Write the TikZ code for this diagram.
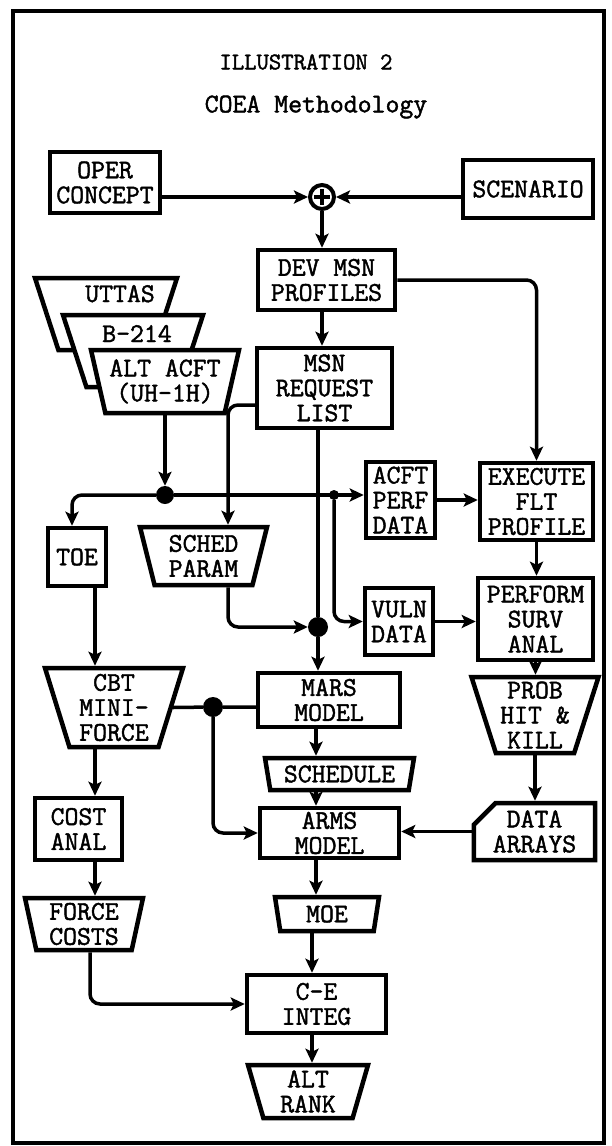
\documentclass[tikz,border=0pt]{standalone}
\usepackage{fontspec}
\setmonofont{Latin Modern Mono}[FakeBold=1.6]
\usetikzlibrary{shapes.geometric,shapes.misc,arrows.meta}

\newcommand{\boxfont}{\ttfamily\fontsize{27}{25}\selectfont}
\newcommand{\titlefont}{\ttfamily\fontsize{24}{24}\selectfont}
\newcommand{\tline}[1]{\makebox[0pt]{#1}}

\tikzset{
  blk/.style={draw, line width=4.5pt, fill=white, inner sep=0pt, align=center, font=\boxfont},
  trap/.style={blk, trapezium, shape border rotate=180, trapezium stretches body, trapezium angle=#1},
  jdot/.style={circle, fill, inner sep=0pt, minimum size=#1},
  flow/.style={line width=3.5pt, -{Stealth[length=14pt,width=13pt,inset=3pt]}},
  link/.style={line width=3.5pt},
  plus/.style={circle, draw, line width=4pt, minimum size=24pt, inner sep=0pt,
    path picture={
      \draw[line width=4pt] ([yshift=-4pt]path picture bounding box.north) -- ([yshift=4pt]path picture bounding box.south);
      \draw[line width=4pt] ([xshift=4pt]path picture bounding box.west) -- ([xshift=-4pt]path picture bounding box.east);}}
}

\begin{document}
\begin{tikzpicture}[x=1pt,y=-1pt]
\useasboundingbox (0,0) rectangle (612,1146);
\draw[line width=4pt] (13,11) rectangle (604,1143);

%TITLE
  \node (title) at (306,62) {\titlefont ILLUSTRATION 2};
  \node (subtitle) at (316,107) {\boxfont COEA Methodology};

%INPUTS
\node[blk, minimum width=110pt, minimum height=61pt] (oper) at (105,182.5) {OPER\\CONCEPT};
\node[plus] (sum) at (322,197) {};
\node[blk, minimum width=130pt, minimum height=58pt] (scen) at (528,189) {SCENARIO};
\node[blk, minimum width=137pt, minimum height=60pt] (dev) at (326.5,280) {DEV MSN\\PROFILES};
\node[blk, minimum width=135pt, minimum height=80pt] (msn) at (324.5,388) {MSN\\REQUEST\\LIST};

%ALTERNATIVES
\node[trap=72, minimum width=142pt, text height=24pt, text depth=48pt] (uttas) at (106,314)
  {\tline{\hspace{28pt}UTTAS}};
\node[trap=72, minimum width=140pt, text height=27pt, text depth=45pt] (b214) at (133,351)
  {\tline{\hspace{8pt}B-214}};
\node[trap=72, minimum width=148pt, minimum height=63pt] (alt) at (165,381.5)
  {\tline{ALT ACFT}\\\tline{(UH-1H)}};

%JUNCTIONS
\node[jdot=18pt] (j1) at (165,495) {};
\node[jdot=10pt] (j2) at (334,495) {};
\node[jdot=20pt] (j3) at (318,627) {};
\node[jdot=20pt] (j4) at (213,707) {};
\coordinate (pcol) at (228,0);
\coordinate (lcol) at (95,0);
\coordinate (fcol) at (90,0);
\coordinate (mcol) at (316,0);
\coordinate (bcol) at (312,0);

%SURVIVABILITY
\node[blk, minimum width=69pt, minimum height=76pt] (acft) at (400.5,500) {ACFT\\PERF\\DATA};
\node[blk, minimum width=113pt, minimum height=77pt] (exe) at (536.5,501.5) {EXECUTE\\FLT\\PROFILE};
\node[blk, minimum width=68pt, minimum height=67pt] (vuln) at (399,621.5) {VULN\\DATA};
\node[blk, minimum width=115pt, minimum height=82pt] (surv) at (535.5,619) {PERFORM\\SURV\\ANAL};
\node[trap=70, minimum width=127pt, minimum height=76pt] (prob) at (535,715) {PROB\\HIT \&\\KILL};
\node[blk, chamfered rectangle, chamfered rectangle corners=north west,
  chamfered rectangle xsep=19pt, minimum width=103pt, minimum height=57pt]
  (arrays) at (534.5,831.5) {DATA\\ARRAYS};

%SCHEDULING
\node[blk, minimum width=58pt, minimum height=58pt] (toe) at (77,557) {TOE};
\node[trap=71, minimum width=127pt, minimum height=58pt] (param) at (203.5,556) {SCHED\\PARAM};
\node[trap=70, minimum width=138pt, minimum height=79pt] (cbt) at (114,707.5) {CBT\\MINI-\\FORCE};
\node[blk, minimum width=142pt, minimum height=54pt] (mars) at (329,700) {MARS\\MODEL};
\node[trap=73, minimum width=149pt, minimum height=32pt] (sched) at (339.5,774) {SCHEDULE};
\node[blk, minimum width=139pt, minimum height=50pt] (arms) at (329.5,833) {ARMS\\MODEL};

%COSTS
\node[blk, minimum width=87pt, minimum height=62pt] (cost) at (78.5,829) {COST\\ANAL};
\node[trap=75, minimum width=118pt, minimum height=52pt] (force) at (84,924) {FORCE\\COSTS};
\node[trap=73, minimum width=104pt, minimum height=34pt] (moe) at (327,914) {MOE};
\node[blk, minimum width=139pt, minimum height=58pt] (ce) at (316.5,1004) {C-E\\INTEG};
\node[trap=70, minimum width=120pt, minimum height=53pt] (rank) at (308,1091.5) {ALT\\RANK};

%TOP FLOW
\draw[flow] (oper.east |- sum) -- (sum.west);
\draw[flow] (scen.west |- sum) -- (sum.east);
\draw[flow] (sum.south) -- (sum.south |- dev.north);
\draw[flow] (dev.south -| sum) -- (msn.north -| sum);
\draw[flow, rounded corners=10pt] (dev.east) -| (exe.north);

%ALTERNATIVES FLOW
\draw[flow] (alt.south) -- (j1.north);
\draw[flow, rounded corners=10pt] (j1.west) -| ([xshift=-5pt]toe.north);
\draw[flow] (j1.east) -- (acft.west |- j1);
\draw[flow, rounded corners=10pt] (j2.south) |- (vuln.west);
\draw[flow] (acft.east) -- (acft.east -| exe.west);
\draw[flow] (vuln.east) -- (vuln.east -| surv.west);
\draw[flow] (exe.south) -- (exe.south |- surv.north);
\draw[flow] (surv.south) -- (surv.south |- prob.north);
\draw[flow] (prob.south) -- (prob.south |- arrays.north);
\draw[flow] (arrays.west) -- (arrays.west -| arms.east);

%SCHEDULING FLOW
\draw[flow, rounded corners=10pt] ([yshift=-17pt]msn.west) -| (param.north -| pcol);
\draw[flow, rounded corners=10pt] (param.south -| pcol) |- (j3.west);
\draw[link] (msn.south -| j3) -- (j3.north);
\draw[flow] (j3.south) -- (j3.south |- mars.north);
\draw[flow] (toe.south -| lcol) -- (cbt.north -| lcol);
\draw[link] (cbt.east) -- (j4) -- (mars.west |- j4);
\draw[flow, rounded corners=10pt] (j4.south) |- (arms.west);
\draw[flow] (mars.south -| mcol) -- (sched.north -| mcol);
\draw[flow] (sched.south -| mcol) -- (arms.north -| mcol);
\draw[flow] (arms.south -| mcol) -- (moe.north -| mcol);

%COSTS FLOW
\draw[flow] (cbt.south -| lcol) -- (cost.north -| lcol);
\draw[flow] (cost.south -| lcol) -- (force.north -| lcol);
\draw[flow, rounded corners=10pt] (force.south -| fcol) |- (ce.west);
\draw[flow] (moe.south -| bcol) -- (ce.north -| bcol);
\draw[flow] (ce.south -| bcol) -- (rank.north -| bcol);
\end{tikzpicture}
\end{document}
